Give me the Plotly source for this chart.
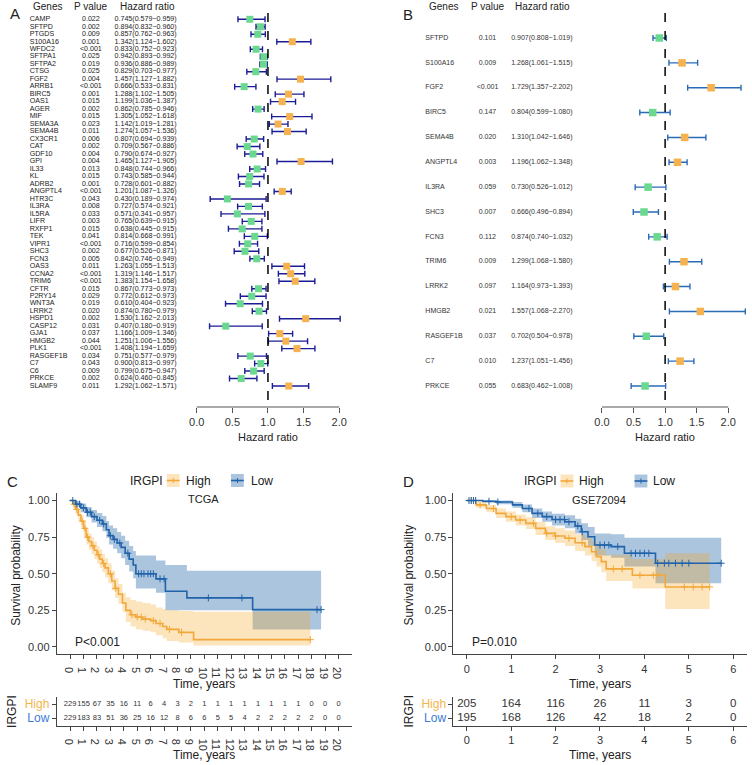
import numpy as np
import plotly.graph_objects as go

W, H = 752, 765
FONT = "Liberation Sans, Arial, sans-serif"

# ---------------- Panel A data ----------------
genes_a = ["CAMP", "SFTPD", "PTGDS", "S100A16", "WFDC2", "SFTPA1", "SFTPA2", "CTSG", "FGF2", "ARRB1",
           "BIRC5", "OAS1", "AGER", "MIF", "SEMA3A", "SEMA4B", "CX3CR1", "CAT", "GDF10", "GPI",
           "IL33", "KL", "ADRB2", "ANGPTL4", "HTR3C", "IL3RA", "IL5RA", "LIFR", "RXFP1", "TEK",
           "VIPR1", "SHC3", "FCN3", "OAS3", "CCNA2", "TRIM6", "CFTR", "P2RY14", "WNT3A", "LRRK2",
           "HSPD1", "CASP12", "GJA1", "HMGB2", "PLK1", "RASGEF1B", "C7", "C6", "PRKCE", "SLAMF9"]
p_a = ["0.022", "0.002", "0.009", "0.001", "<0.001", "0.025", "0.019", "0.025", "0.004", "<0.001",
       "0.001", "0.015", "0.002", "0.015", "0.023", "0.011", "0.006", "0.002", "0.004", "0.004",
       "0.013", "0.015", "0.001", "<0.001", "0.043", "0.008", "0.033", "0.003", "0.015", "0.041",
       "<0.001", "0.002", "0.005", "0.011", "<0.001", "<0.001", "0.015", "0.029", "0.019", "0.020",
       "0.002", "0.031", "0.037", "0.044", "<0.001", "0.034", "0.043", "0.009", "0.002", "0.011"]
hr_a = [0.745, 0.894, 0.857, 1.342, 0.833, 0.942, 0.936, 0.829, 1.457, 0.666,
        1.288, 1.199, 0.862, 1.305, 1.142, 1.274, 0.807, 0.709, 0.790, 1.465,
        0.848, 0.743, 0.728, 1.201, 0.430, 0.727, 0.571, 0.765, 0.638, 0.814,
        0.716, 0.677, 0.842, 1.263, 1.319, 1.383, 0.867, 0.772, 0.610, 0.874,
        1.530, 0.407, 1.166, 1.251, 1.408, 0.751, 0.900, 0.799, 0.624, 1.292]
lo_a = [0.579, 0.832, 0.762, 1.124, 0.752, 0.893, 0.886, 0.703, 1.127, 0.533,
        1.102, 1.036, 0.785, 1.052, 1.019, 1.057, 0.694, 0.567, 0.674, 1.127,
        0.744, 0.585, 0.601, 1.087, 0.189, 0.574, 0.341, 0.639, 0.445, 0.668,
        0.599, 0.526, 0.746, 1.055, 1.146, 1.154, 0.773, 0.612, 0.404, 0.780,
        1.162, 0.180, 1.009, 1.006, 1.194, 0.577, 0.813, 0.675, 0.460, 1.062]
hi_a = [0.959, 0.960, 0.963, 1.602, 0.923, 0.992, 0.989, 0.977, 1.882, 0.831,
        1.505, 1.387, 0.946, 1.618, 1.281, 1.536, 0.939, 0.886, 0.927, 1.905,
        0.966, 0.944, 0.882, 1.326, 0.974, 0.921, 0.957, 0.915, 0.915, 0.991,
        0.854, 0.871, 0.949, 1.513, 1.517, 1.658, 0.973, 0.973, 0.923, 0.979,
        2.013, 0.919, 1.346, 1.556, 1.659, 0.979, 0.997, 0.947, 0.845, 1.571]

# ---------------- Panel B data ----------------
genes_b = ["SFTPD", "S100A16", "FGF2", "BIRC5", "SEMA4B", "ANGPTL4", "IL3RA", "SHC3", "FCN3",
           "TRIM6", "LRRK2", "HMGB2", "RASGEF1B", "C7", "PRKCE"]
p_b = ["0.101", "0.009", "<0.001", "0.147", "0.020", "0.003", "0.059", "0.007", "0.112",
       "0.009", "0.097", "0.021", "0.037", "0.010", "0.055"]
hr_b = [0.907, 1.268, 1.729, 0.804, 1.310, 1.196, 0.730, 0.666, 0.874, 1.299, 1.164, 1.557, 0.702, 1.237, 0.683]
lo_b = [0.808, 1.061, 1.357, 0.599, 1.042, 1.062, 0.526, 0.496, 0.740, 1.068, 0.973, 1.068, 0.504, 1.051, 0.462]
hi_b = [1.019, 1.515, 2.202, 1.080, 1.646, 1.348, 1.012, 0.894, 1.032, 1.580, 1.393, 2.270, 0.978, 1.456, 1.008]

hr_ticks = [0, 0.5, 1, 1.5, 2]
hr_ticktext = ["0.0", "0.5", "1.0", "1.5", "2.0"]

# ---------------- Panel C (TCGA) KM data ----------------
c_high_t = [0, 0.2, 0.4, 0.6, 0.8, 1.0, 1.2, 1.4, 1.6, 1.8, 2.0, 2.2, 2.4, 2.6, 2.85, 3.1, 3.35, 3.6,
            3.9, 4.15, 4.5, 4.9, 5.4, 6.0, 6.4, 6.9, 7.2, 8.1, 9.2]
c_high_s = [1.0, 0.975, 0.94, 0.90, 0.86, 0.81, 0.75, 0.72, 0.69, 0.66, 0.63, 0.60, 0.57, 0.54, 0.50,
            0.45, 0.40, 0.36, 0.30, 0.25, 0.22, 0.205, 0.19, 0.18, 0.16, 0.14, 0.12, 0.10, 0.05]
c_high_lo = [1.0, 0.955, 0.91, 0.865, 0.82, 0.76, 0.70, 0.665, 0.635, 0.60, 0.57, 0.54, 0.51, 0.475, 0.435,
             0.385, 0.335, 0.295, 0.24, 0.17, 0.14, 0.12, 0.11, 0.10, 0.08, 0.06, 0.04, 0.03, 0.01]
c_high_hi = [1.0, 0.995, 0.97, 0.94, 0.90, 0.86, 0.80, 0.775, 0.75, 0.72, 0.69, 0.665, 0.635, 0.605, 0.57,
             0.52, 0.47, 0.43, 0.37, 0.34, 0.32, 0.31, 0.30, 0.29, 0.27, 0.26, 0.25, 0.245, 0.24]
c_high_end = 17.9
c_high_cens = [0.3, 0.5, 0.9, 1.1, 1.3, 1.7, 2.1, 2.5, 3.0, 3.4, 4.6, 5.0, 5.3, 5.6, 6.2, 6.7, 7.4, 8.3, 17.9]

c_low_t = [0, 0.4, 0.8, 1.2, 1.6, 2.0, 2.4, 2.7, 2.9, 3.2, 3.5, 3.8, 4.1, 4.4, 4.7, 4.9, 6.4, 7.1, 8.7, 13.6]
c_low_s = [1.0, 0.975, 0.95, 0.92, 0.89, 0.865, 0.84, 0.80, 0.76, 0.735, 0.71, 0.68, 0.64, 0.60, 0.56,
           0.50, 0.465, 0.38, 0.335, 0.255]
c_low_lo = [1.0, 0.955, 0.92, 0.885, 0.85, 0.82, 0.79, 0.745, 0.70, 0.67, 0.64, 0.605, 0.56, 0.515, 0.47,
            0.40, 0.37, 0.25, 0.25, 0.12]
c_low_hi = [1.0, 0.995, 0.98, 0.955, 0.935, 0.915, 0.895, 0.86, 0.83, 0.81, 0.785, 0.76, 0.725, 0.69, 0.655,
            0.625, 0.59, 0.56, 0.52, 0.52]
c_low_end = 18.7
c_low_cens = [0.2, 0.5, 0.7, 1.0, 1.3, 1.5, 1.8, 2.2, 2.5, 3.0, 3.3, 3.7, 4.3, 5.1, 5.3, 5.5, 5.8, 6.0,
              6.2, 6.7, 7.0, 10.3, 12.8, 18.4, 18.7]

c_years = list(range(0, 21))
c_risk_high = [229, 155, 67, 35, 16, 11, 6, 4, 3, 2, 1, 1, 1, 1, 1, 1, 1, 1, 0, 0, 0]
c_risk_low = [229, 183, 83, 51, 36, 25, 16, 12, 8, 6, 6, 5, 5, 4, 2, 2, 2, 2, 2, 0, 0]

# ---------------- Panel D (GSE72094) KM data ----------------
d_high_t = [0, 0.21, 0.44, 0.66, 0.88, 1.1, 1.33, 1.55, 1.77, 1.99, 2.21, 2.44, 2.66, 2.81, 2.92, 3.03,
            3.14, 3.73, 4.47]
d_high_s = [1.0, 0.97, 0.946, 0.912, 0.89, 0.867, 0.844, 0.81, 0.776, 0.758, 0.742, 0.712, 0.685, 0.65,
            0.617, 0.583, 0.533, 0.49, 0.41]
d_high_lo = [1.0, 0.95, 0.92, 0.88, 0.855, 0.83, 0.805, 0.765, 0.73, 0.71, 0.69, 0.655, 0.625, 0.585,
             0.55, 0.51, 0.45, 0.40, 0.26]
d_high_hi = [1.0, 0.99, 0.97, 0.945, 0.925, 0.905, 0.885, 0.855, 0.825, 0.81, 0.795, 0.77, 0.75, 0.72,
             0.69, 0.665, 0.63, 0.60, 0.64]
d_high_end = 5.47
d_high_cens = [0.1, 0.3, 0.6, 1.0, 1.2, 1.5, 1.8, 2.0, 2.3, 2.6, 3.3, 3.5, 3.9, 4.2, 4.3, 4.9, 5.1, 5.3, 5.47]

d_low_t = [0, 0.36, 0.66, 1.03, 1.25, 1.47, 1.7, 1.92, 2.21, 2.44, 2.58, 2.73, 2.88, 3.25, 3.55, 4.25]
d_low_s = [1.0, 0.995, 0.99, 0.97, 0.946, 0.912, 0.89, 0.87, 0.855, 0.826, 0.787, 0.753, 0.696, 0.685,
           0.64, 0.572]
d_low_lo = [1.0, 0.985, 0.975, 0.95, 0.92, 0.88, 0.855, 0.83, 0.81, 0.775, 0.73, 0.69, 0.625, 0.61,
            0.55, 0.435]
d_low_hi = [1.0, 1.0, 1.0, 0.99, 0.972, 0.945, 0.925, 0.91, 0.90, 0.875, 0.845, 0.82, 0.775, 0.77,
            0.745, 0.745]
d_low_end = 5.73
d_low_cens = [0.05, 0.1, 0.15, 0.2, 0.5, 0.7, 1.4, 1.6, 1.8, 2.0, 2.1, 2.2, 2.3, 2.5, 2.6, 3.0, 3.1, 3.2,
              3.4, 3.7, 3.8, 3.9, 4.0, 4.1, 4.3, 4.45, 4.55, 4.7, 4.85, 5.0, 5.73]

d_years = list(range(0, 7))
d_risk_high = [205, 164, 116, 26, 11, 3, 0]
d_risk_low = [195, 168, 126, 42, 18, 2, 0]

# ---------------- styles ----------------
GREEN = "#6AD98F"
ORANGE_SQ = "#F6B24E"
NAVY = "#1C1C96"
BLUE_EB = "#2A6BB8"
BLUE = "#2163AA"
ORANGE = "#F2A83A"
BLUE_FILL = "rgba(33,102,172,0.38)"
ORANGE_FILL = "rgba(245,166,35,0.30)"
TXT = "#222222"
AX = "#444444"


def fx(p):
    return p / W


def fy(p):
    return 1 - p / H


def dom_x(a, b):
    return [a / W, b / W]


def dom_y(top, bottom):
    return [1 - bottom / H, 1 - top / H]


fig = go.Figure()

# ---------- Panel A table ----------
rows_a = list(range(len(genes_a)))
fs_a = 7.1
fig.add_trace(go.Scatter(x=[24] * len(genes_a), y=rows_a, text=genes_a, mode="text",
                         textposition="middle right", textfont=dict(size=fs_a, color=TXT, family=FONT),
                         xaxis="x", yaxis="y", cliponaxis=False, hoverinfo="skip"))
fig.add_trace(go.Scatter(x=[86] * len(genes_a), y=rows_a, text=p_a, mode="text",
                         textposition="middle center", textfont=dict(size=fs_a, color=TXT, family=FONT),
                         xaxis="x", yaxis="y", cliponaxis=False, hoverinfo="skip"))
hr_text_a = [f"{h:.3f}({l:.3f}\u2212{u:.3f})" for h, l, u in zip(hr_a, lo_a, hi_a)]
fig.add_trace(go.Scatter(x=[110] * len(genes_a), y=rows_a, text=hr_text_a, mode="text",
                         textposition="middle right", textfont=dict(size=fs_a, color=TXT, family=FONT),
                         xaxis="x", yaxis="y", cliponaxis=False, hoverinfo="skip"))

# ---------- Panel A forest ----------
col_a = [ORANGE_SQ if h > 1 else GREEN for h in hr_a]
fig.add_trace(go.Scatter(
    x=hr_a, y=rows_a, mode="markers", xaxis="x2", yaxis="y2", cliponaxis=False,
    marker=dict(symbol="square", size=7, color=col_a, line=dict(width=0)),
    error_x=dict(type="data", symmetric=False,
                 array=[u - h for h, u in zip(hr_a, hi_a)],
                 arrayminus=[h - l for h, l in zip(hr_a, lo_a)],
                 color=NAVY, thickness=1.4, width=3)))

# ---------- Panel B table ----------
rows_b = list(range(len(genes_b)))
fs_b = 7.0
fig.add_trace(go.Scatter(x=[425] * len(genes_b), y=rows_b, text=genes_b, mode="text",
                         textposition="middle right", textfont=dict(size=fs_b, color="#333", family=FONT),
                         xaxis="x3", yaxis="y3", cliponaxis=False, hoverinfo="skip"))
fig.add_trace(go.Scatter(x=[488] * len(genes_b), y=rows_b, text=p_b, mode="text",
                         textposition="middle center", textfont=dict(size=fs_b, color="#333", family=FONT),
                         xaxis="x3", yaxis="y3", cliponaxis=False, hoverinfo="skip"))
hr_text_b = [f"{h:.3f}({l:.3f}\u2212{u:.3f})" for h, l, u in zip(hr_b, lo_b, hi_b)]
fig.add_trace(go.Scatter(x=[512] * len(genes_b), y=rows_b, text=hr_text_b, mode="text",
                         textposition="middle right", textfont=dict(size=fs_b, color="#333", family=FONT),
                         xaxis="x3", yaxis="y3", cliponaxis=False, hoverinfo="skip"))

# ---------- Panel B forest ----------
col_b = [ORANGE_SQ if h > 1 else GREEN for h in hr_b]
fig.add_trace(go.Scatter(
    x=hr_b, y=rows_b, mode="markers", xaxis="x4", yaxis="y4", cliponaxis=False,
    marker=dict(symbol="square", size=7.5, color=col_b, line=dict(width=0)),
    error_x=dict(type="data", symmetric=False,
                 array=[u - h for h, u in zip(hr_b, hi_b)],
                 arrayminus=[h - l for h, l in zip(hr_b, lo_b)],
                 color=BLUE_EB, thickness=1.4, width=3)))


# ---------- KM helpers ----------
def step_at(ts, ss, tc):
    idx = np.searchsorted(np.asarray(ts), np.asarray(tc), side="right") - 1
    return list(np.asarray(ss)[idx])


def add_km(t, lo, hi, end, fill, xa, ya):
    te = t + [end]
    fig.add_trace(go.Scatter(x=te, y=lo + [lo[-1]], mode="lines", line=dict(width=0, shape="hv"),
                             xaxis=xa, yaxis=ya, hoverinfo="skip", showlegend=False))
    fig.add_trace(go.Scatter(x=te, y=hi + [hi[-1]], mode="lines", line=dict(width=0, shape="hv"),
                             fill="tonexty", fillcolor=fill,
                             xaxis=xa, yaxis=ya, hoverinfo="skip", showlegend=False))


def add_km_line(t, s, end, cens, color, xa, ya):
    fig.add_trace(go.Scatter(x=t + [end], y=s + [s[-1]], mode="lines", line=dict(width=1.6, color=color, shape="hv"),
                             xaxis=xa, yaxis=ya, showlegend=False))
    fig.add_trace(go.Scatter(x=cens, y=step_at(t, s, cens), mode="markers",
                             marker=dict(symbol="cross-thin", size=5, line=dict(width=1, color=color)),
                             xaxis=xa, yaxis=ya, showlegend=False, cliponaxis=False))


# Panel C
add_km(c_low_t, c_low_lo, c_low_hi, c_low_end, BLUE_FILL, "x5", "y5")
add_km(c_high_t, c_high_lo, c_high_hi, c_high_end, ORANGE_FILL, "x5", "y5")
add_km_line(c_high_t, c_high_s, c_high_end, c_high_cens, ORANGE, "x5", "y5")
add_km_line(c_low_t, c_low_s, c_low_end, c_low_cens, BLUE, "x5", "y5")
# Panel D
add_km(d_low_t, d_low_lo, d_low_hi, d_low_end, BLUE_FILL, "x7", "y7")
add_km(d_high_t, d_high_lo, d_high_hi, d_high_end, ORANGE_FILL, "x7", "y7")
add_km_line(d_high_t, d_high_s, d_high_end, d_high_cens, ORANGE, "x7", "y7")
add_km_line(d_low_t, d_low_s, d_low_end, d_low_cens, BLUE, "x7", "y7")

# Risk tables
fig.add_trace(go.Scatter(x=c_years, y=[2] * len(c_years), text=[str(v) for v in c_risk_high], mode="text",
                         textfont=dict(size=7.5, color="#333", family=FONT), xaxis="x6", yaxis="y6",
                         cliponaxis=False, hoverinfo="skip"))
fig.add_trace(go.Scatter(x=c_years, y=[1] * len(c_years), text=[str(v) for v in c_risk_low], mode="text",
                         textfont=dict(size=7.5, color="#333", family=FONT), xaxis="x6", yaxis="y6",
                         cliponaxis=False, hoverinfo="skip"))
fig.add_trace(go.Scatter(x=d_years, y=[2] * len(d_years), text=[str(v) for v in d_risk_high], mode="text",
                         textfont=dict(size=11.5, color="#333", family=FONT), xaxis="x8", yaxis="y8",
                         cliponaxis=False, hoverinfo="skip"))
fig.add_trace(go.Scatter(x=d_years, y=[1] * len(d_years), text=[str(v) for v in d_risk_low], mode="text",
                         textfont=dict(size=11.5, color="#333", family=FONT), xaxis="x8", yaxis="y8",
                         cliponaxis=False, hoverinfo="skip"))

# ---------- layout axes ----------
hidden = dict(visible=False, showgrid=False, zeroline=False, fixedrange=True)

forest_x = dict(showgrid=False, zeroline=False, showline=False, ticks="outside", ticklen=5, tickwidth=1,
                tickcolor="#555", tickvals=hr_ticks, ticktext=hr_ticktext,
                tickfont=dict(size=11, color="#333", family=FONT))

km_common = dict(showgrid=False, zeroline=False, showline=True, linecolor=AX, linewidth=1,
                 ticks="outside", ticklen=4, tickcolor=AX, tickfont=dict(size=11, color="#333", family=FONT))

risk_ticktext = ['<span style="color:#3C7BD6">Low</span>', '<span style="color:#F5B54E">High</span>']

layout = dict(
    width=W, height=H, autosize=False, margin=dict(l=0, r=0, t=0, b=0),
    paper_bgcolor="white", plot_bgcolor="rgba(0,0,0,0)", showlegend=False,
    font=dict(family=FONT, color=TXT),
    xaxis=dict(domain=dom_x(0, 190), range=[0, 190], anchor="y", **hidden),
    yaxis=dict(domain=dom_y(12, 407), range=[51.8, -0.975], anchor="x", **hidden),
    xaxis2=dict(domain=dom_x(193.3 - 0.02 * 72.2, 193.3 + 2.05 * 72.2), range=[-0.02, 2.05], anchor="y2",
                **forest_x),
    yaxis2=dict(domain=dom_y(12, 407), range=[51.8, -0.975], anchor="x2", **hidden),
    xaxis3=dict(domain=dom_x(390, 600), range=[390, 600], anchor="y3", **hidden),
    yaxis3=dict(domain=dom_y(12, 407), range=[14.845, -1.046], anchor="x3", **hidden),
    xaxis4=dict(domain=dom_x(604 - 0.02 * 64, 604 + 2.3 * 64), range=[-0.02, 2.3], anchor="y4", **forest_x),
    yaxis4=dict(domain=dom_y(12, 407), range=[14.845, -1.046], anchor="x4", **hidden),
    xaxis5=dict(domain=dom_x(51.4, 350.6), range=[-1, 21], anchor="y5", tickvals=c_years, **km_common),
    yaxis5=dict(domain=dom_y(493.2, 654.3), range=[-0.05, 1.05], anchor="x5",
                tickvals=[0, 0.25, 0.5, 0.75, 1.0], ticktext=["0.00", "0.25", "0.50", "0.75", "1.00"],
                **km_common),
    xaxis6=dict(domain=dom_x(51.4, 350.6), range=[-1, 21], anchor="y6", tickvals=c_years, **km_common),
    yaxis6=dict(domain=dom_y(697, 726), range=[0.4286, 2.5], anchor="x6", tickvals=[1, 2],
                ticktext=risk_ticktext, **{**km_common, "tickfont": dict(size=12, family=FONT)}),
    xaxis7=dict(domain=dom_x(453.5, 750.5), range=[-0.3, 6.3], anchor="y7", tickvals=d_years, **km_common),
    yaxis7=dict(domain=dom_y(493.2, 654.3), range=[-0.05, 1.05], anchor="x7",
                tickvals=[0, 0.25, 0.5, 0.75, 1.0], ticktext=["0.00", "0.25", "0.50", "0.75", "1.00"],
                **km_common),
    xaxis8=dict(domain=dom_x(453.5, 750.5), range=[-0.3, 6.3], anchor="y8", tickvals=d_years, **km_common),
    yaxis8=dict(domain=dom_y(697, 726), range=[0.4286, 2.5], anchor="x8", tickvals=[1, 2],
                ticktext=risk_ticktext, **{**km_common, "tickfont": dict(size=12, family=FONT)}),
)
fig.update_layout(**layout)

shapes = []
shapes.append(dict(type="line", xref="x2", yref="y2 domain", x0=1, x1=1, y0=0.018, y1=1,
                   line=dict(color="black", width=1.5, dash="dash")))
shapes.append(dict(type="line", xref="x2", yref="y2 domain", x0=0, x1=2, y0=0, y1=0,
                   line=dict(color="#555", width=1)))
shapes.append(dict(type="line", xref="x4", yref="y4 domain", x0=1, x1=1, y0=0.018, y1=1,
                   line=dict(color="black", width=1.5, dash="dash")))
shapes.append(dict(type="line", xref="x4", yref="y4 domain", x0=0, x1=2, y0=0, y1=0,
                   line=dict(color="#555", width=1)))


def legend_key(x0, x1, yc, color, fill):
    shapes.append(dict(type="rect", xref="paper", yref="paper", x0=fx(x0), x1=fx(x1), y0=fy(yc + 6.5),
                       y1=fy(yc - 6.5), fillcolor=fill, line=dict(width=0)))
    shapes.append(dict(type="line", xref="paper", yref="paper", x0=fx(x0), x1=fx(x1), y0=fy(yc), y1=fy(yc),
                       line=dict(color=color, width=1.6)))
    xm = (x0 + x1) / 2
    shapes.append(dict(type="line", xref="paper", yref="paper", x0=fx(xm), x1=fx(xm), y0=fy(yc + 2.5),
                       y1=fy(yc - 2.5), line=dict(color=color, width=1)))


legend_key(163, 176, 480.5, ORANGE, ORANGE_FILL)
legend_key(228, 241, 480.5, BLUE, BLUE_FILL)
legend_key(562, 575, 481, ORANGE, ORANGE_FILL)
legend_key(637, 650, 481, BLUE, BLUE_FILL)

fig.update_layout(shapes=shapes)

ann = []


def text(x, y, s, size=11, xanchor="center", color=TXT, angle=0):
    ann.append(dict(x=fx(x), y=fy(y), xref="paper", yref="paper", text=s, showarrow=False,
                    xanchor=xanchor, yanchor="middle", textangle=angle,
                    font=dict(size=size, color=color, family=FONT)))


text(9, 13, "A", 15)
text(407, 14, "B", 15)
text(7, 481, "C", 15)
text(408, 481, "D", 15)
text(25, 7, "Genes", 10, "left")
text(86, 7, "P value", 10)
text(143, 7, "Hazard ratio", 10)
text(427, 7, "Genes", 10, "left")
text(488, 7, "P value", 10)
text(544, 7, "Hazard ratio", 10)
text(266, 437, "Hazard ratio", 11)
text(668, 437, "Hazard ratio", 11)
text(124, 480.5, "IRGPI", 12, "left")
text(180, 480.5, "High", 12, "left")
text(246, 480.5, "Low", 12, "left")
text(200, 499, "TCGA", 11)
text(68, 642, "P<0.001", 12, "left")
text(10, 575, "Survival probability", 12, angle=-90)
text(201, 684, "Time, years", 12)
text(201, 755, "Time, years", 12)
text(6, 711, "IRGPI", 12, angle=-90)
text(523, 481, "IRGPI", 12, "left")
text(579, 481, "High", 12, "left")
text(654, 481, "Low", 12, "left")
text(601, 500, "GSE72094", 11)
text(470, 642, "P=0.010", 12, "left")
text(408, 575, "Survival probability", 12, angle=-90)
text(602, 684, "Time, years", 12)
text(602, 755, "Time, years", 12)
text(408, 711, "IRGPI", 12, angle=-90)

fig.update_layout(annotations=ann)

fig.write_html("out.html", config={"displayModeBar": False, "staticPlot": True},
               post_script="document.body.style.margin='0';document.body.style.padding='0';"
                           "document.body.style.overflow='hidden';")
